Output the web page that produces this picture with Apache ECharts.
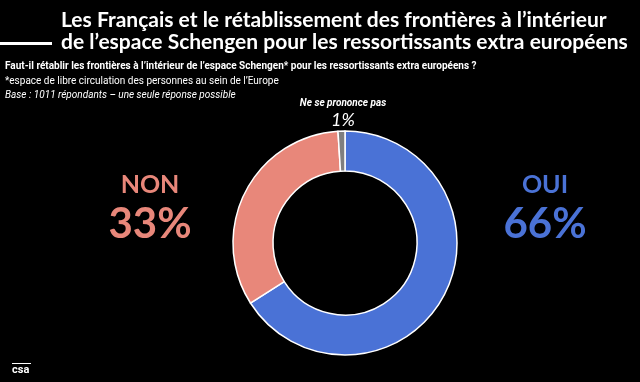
<!DOCTYPE html>
<html>
<head>
<meta charset="utf-8">
<script src="https://cdn.jsdelivr.net/npm/echarts@6/dist/echarts.min.js"></script>
<style>
html,body{margin:0;padding:0;background:#000;}
#chart{width:640px;height:382px;}
</style>
</head>
<body>
<div id="chart"></div>
<script>
const categories = ['OUI', 'NON', 'Ne se prononce pas'];
const values = [66, 33, 1];
const titleLines = [
  'Les Français et le rétablissement des frontières à l\u2019intérieur',
  'de l\u2019espace Schengen pour les ressortissants extra européens'
];
const question = 'Faut-il rétablir les frontières à l\u2019intérieur de l\u2019espace Schengen* pour les ressortissants extra européens ?';
const note = '*espace de libre circulation des personnes au sein de l\u2019Europe';
const base = 'Base : 1011 répondants \u2013 une seule réponse possible';
const colors = ['#4a72d6', '#e8877a', '#7f7f7f'];

const chart = echarts.init(document.getElementById('chart'));
const titleFont = 'Lato, "Noto Sans", sans-serif';
const smallFont = '"Liberation Sans Narrow", "Roboto", sans-serif';

chart.setOption({
  backgroundColor: '#000',
  animation: false,
  series: [{
    type: 'pie',
    center: [345, 243],
    radius: [72, 112],
    startAngle: 90,
    clockwise: true,
    label: { show: false },
    labelLine: { show: false },
    itemStyle: { borderColor: '#ffffff', borderWidth: 1.5 },
    data: categories.map((c, i) => ({ name: c, value: values[i], itemStyle: { color: colors[i] } }))
  }],
  graphic: [
    { type: 'rect', shape: { x: 0, y: 42, width: 52, height: 3 }, style: { fill: '#fff' } },
    { type: 'text', x: 61, y: 31, style: { text: titleLines[0], fill: '#fff', font: 'bold 21px ' + titleFont, textVerticalAlign: 'bottom' } },
    { type: 'text', x: 61, y: 53, style: { text: titleLines[1], fill: '#fff', font: 'bold 21px ' + titleFont, textVerticalAlign: 'bottom' } },
    { type: 'text', x: 5, y: 71, style: { text: question, fill: '#fff', font: 'bold 10px ' + smallFont, textVerticalAlign: 'bottom' } },
    { type: 'text', x: 5, y: 86, style: { text: note, fill: '#fff', font: '10px ' + smallFont, textVerticalAlign: 'bottom' } },
    { type: 'text', x: 5, y: 100, style: { text: base, fill: '#fff', font: 'italic 10px ' + smallFont, textVerticalAlign: 'bottom' } },
    { type: 'text', x: 343, y: 108, style: { text: categories[2], fill: '#fff', font: 'italic bold 10px ' + smallFont, textAlign: 'center', textVerticalAlign: 'bottom' } },
    { type: 'text', x: 343, y: 129, style: { text: values[2] + '%', fill: '#fff', font: 'italic 18px ' + titleFont, textAlign: 'center', textVerticalAlign: 'bottom' } },
    { type: 'text', x: 150, y: 197, style: { text: categories[1], fill: colors[1], font: 'bold 25px ' + titleFont, textAlign: 'center', textVerticalAlign: 'bottom' } },
    { type: 'text', x: 150, y: 245, style: { text: values[1] + '%', fill: colors[1], font: 'bold 42px ' + titleFont, textAlign: 'center', textVerticalAlign: 'bottom' } },
    { type: 'text', x: 545, y: 197, style: { text: categories[0], fill: colors[0], font: 'bold 25px ' + titleFont, textAlign: 'center', textVerticalAlign: 'bottom' } },
    { type: 'text', x: 545, y: 245, style: { text: values[0] + '%', fill: colors[0], font: 'bold 42px ' + titleFont, textAlign: 'center', textVerticalAlign: 'bottom' } },
    { type: 'rect', shape: { x: 12, y: 363, width: 19, height: 1 }, style: { fill: '#fff' } },
    { type: 'text', x: 12, y: 376, style: { text: 'csa', fill: '#fff', font: 'bold 11px ' + smallFont, textVerticalAlign: 'bottom' } }
  ]
});
</script>
</body>
</html>
